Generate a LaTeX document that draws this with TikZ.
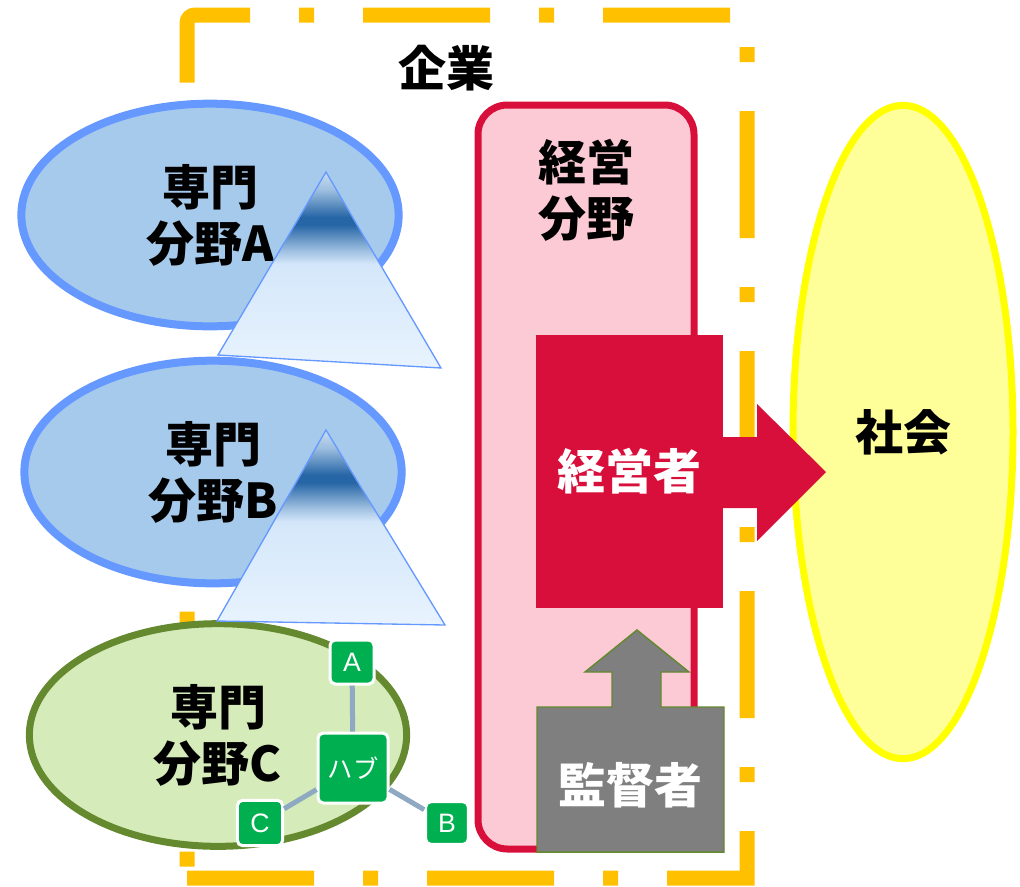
\documentclass[tikz,border=0pt]{standalone}
\usepackage{fontspec}
\setmainfont{Liberation Sans}
\newfontfamily\jp{Noto Sans CJK JP}
\usetikzlibrary{shapes.geometric}
\definecolor{dashY}{HTML}{FFC000}
\definecolor{blueFill}{HTML}{A6CAEC}
\definecolor{blueLine}{HTML}{6699FF}
\definecolor{greenFill}{HTML}{D5EBBA}
\definecolor{greenLine}{HTML}{64892F}
\definecolor{crimson}{HTML}{D90F3B}
\definecolor{pinkFill}{HTML}{FCCAD5}
\definecolor{hubGreen}{HTML}{00B050}
\definecolor{linkGray}{HTML}{8EA9C1}
\definecolor{grayBox}{HTML}{7F7F7F}
\definecolor{yelLine}{HTML}{FFFF00}
\definecolor{yelFill}{HTML}{FFFF99}
\definecolor{triT}{HTML}{C9DDF0}
\definecolor{triM}{HTML}{9EBFE0}
\definecolor{triD}{HTML}{2766A6}
\definecolor{triL}{HTML}{D4E7FA}
\definecolor{triB}{HTML}{E8F3FE}
\pgfdeclareverticalshading{mount}{100bp}{color(0bp)=(triB); color(25bp)=(triB); color(51.5bp)=(triL); color(55bp)=(triM); color(61.5bp)=(triD); color(63.5bp)=(triD); color(70.5bp)=(triM); color(75bp)=(triT); color(100bp)=(triT)}
\begin{document}
\begin{tikzpicture}[x=0.75pt,y=-0.75pt,
  big/.style={font={\jp\bfseries\fontsize{36pt}{42pt}\selectfont}, align=center},
  field/.style={big, ellipse, draw, inner sep=0pt, minimum width=283pt, minimum height=167pt},
  fieldAB/.style={field, fill=blueFill, draw=blueLine, line width=6pt},
  fieldC/.style={field, fill=greenFill, draw=greenLine, line width=5.25pt},
  mount/.style={shading=mount, draw=blueLine, line width=1pt},
  hubbox/.style={rectangle, rounded corners=4pt, fill=hubGreen, draw=white, line width=2.25pt, text=white, inner sep=0pt, font={\jp\fontsize{19pt}{22pt}\selectfont}},
  letter/.style={hubbox, font={\fontsize{20pt}{22pt}\selectfont}},
  link/.style={draw=linkGray, line width=3.75pt},
  border/.style={draw=dashY, line width=11.25pt, dash pattern=on 95.25pt off 36.75pt on 11.25pt off 36.75pt}
]
\useasboundingbox (0,0) rectangle (1020,886);
% enterprise border
\draw[border] (187,878) -- (747,878) -- (747,15) [rounded corners=6pt] -- (187,15) [sharp corners] -- (187,878);
\node[big] (kigyo) at (446,68) {企業};
% management area
\node[rectangle, rounded corners=22pt, draw=crimson, fill=pinkFill, line width=5.25pt, minimum width=162pt, minimum height=558pt, inner sep=0pt] (mgmt) at (586,477) {};
\node[big] (mgmtlabel) at (586,190) {経営\\分野};
% society
\node[big, ellipse, draw=yelLine, fill=yelFill, line width=5.25pt, inner sep=0pt, minimum width=165pt, minimum height=490pt] (society) at (903,432) {社会};
% executive with arrow
\fill[crimson] (723,437) -- (757,437) -- (757,404) -- (826,472) -- (757,541) -- (757,508) -- (723,508) -- cycle;
\node[big, text=white, rectangle, fill=crimson, minimum width=140.25pt, minimum height=204.75pt, inner sep=0pt] (exec) at (629.5,471.5) {経営者};
% supervisor with up arrow
\filldraw[fill=grayBox, draw=greenLine, line width=1.1pt] (537,707) -- (612,707) -- (612,672) -- (585,672) -- (637,630) -- (689,672) -- (661,672) -- (661,707) -- (724,707) -- (724,852) -- (537,852) -- cycle;
\node[big, text=white] (super) at (630.5,785) {監督者};
% fields
\node[fieldAB] (fa) at (210,215) {専門\\分野A};
\node[fieldAB] (fb) at (213,472) {専門\\分野B};
\node[fieldC] (fc) at (218,735) {専門\\分野C};
% mountains
\path[mount] (326,172) -- (441,368) -- (218,355) -- cycle;
\path[mount] (326,430) -- (445,625) -- (217,621) -- cycle;
% hub
\node[hubbox, minimum size=52.5pt] (hub) at (353,768) {ハブ};
\node[letter, minimum size=33pt] (na) at (352,662) {A};
\node[letter, minimum size=32pt] (nb) at (447,823) {B};
\node[letter, minimum size=34pt] (nc) at (260,823) {C};
\draw[link] (hub) -- (na);
\draw[link] (hub) -- (nb);
\draw[link] (hub) -- (nc);
\end{tikzpicture}
\end{document}
